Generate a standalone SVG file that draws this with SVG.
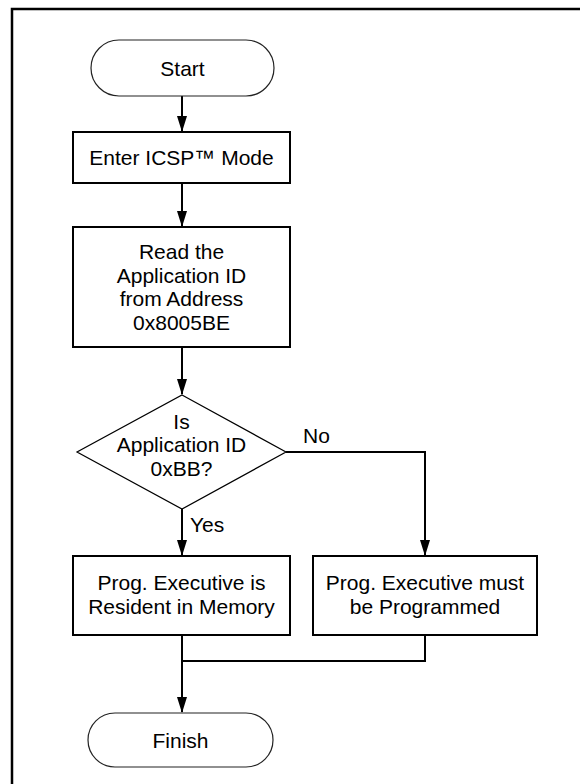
<svg xmlns="http://www.w3.org/2000/svg" width="580" height="784" viewBox="0 0 580 784">
<defs>
<style>
.t{font-family:"Liberation Sans",Arial,sans-serif;font-size:21px;fill:#000;text-anchor:middle}
.l{font-family:"Liberation Sans",Arial,sans-serif;font-size:21px;fill:#000}
.box{fill:#fff;stroke:#000;stroke-width:2}
.term{fill:#fff;stroke:#222;stroke-width:1.2}
.dia{fill:#fff;stroke:#000;stroke-width:1.2}
.c{fill:none;stroke:#000;stroke-width:2}
</style>
<marker id="ah" markerUnits="userSpaceOnUse" markerWidth="16" markerHeight="11" refX="15" refY="5.5" orient="auto">
<path d="M0,0.5 L16,5.5 L0,10.5 z" fill="#000"/>
</marker>
</defs>
<rect width="580" height="784" fill="#fff"/>
<path d="M12,784 V9 H580" fill="none" stroke="#000" stroke-width="2.5"/>
<g id="connectors">
<path class="c" d="M182,96 V131" marker-end="url(#ah)"/>
<path class="c" d="M182,183 V226" marker-end="url(#ah)"/>
<path class="c" d="M182,347 V394" marker-end="url(#ah)"/>
<path class="c" d="M182,509 V555" marker-end="url(#ah)"/>
<path class="c" d="M286,452 H425 V555" marker-end="url(#ah)"/>
<path class="c" d="M425,635 V661 H182"/>
<path class="c" d="M182,635 V712" marker-end="url(#ah)"/>
</g>
<g id="start">
<rect class="term" x="91" y="40" width="183" height="56" rx="28" ry="28"/>
<text class="t" x="182.5" y="75.5">Start</text>
</g>
<g id="enter">
<rect class="box" x="73" y="132" width="217" height="51"/>
<text class="t" x="181.5" y="165">Enter ICSP™ Mode</text>
</g>
<g id="read">
<rect class="box" x="73" y="227" width="217" height="120"/>
<text class="t" x="181.5" y="259">Read the</text>
<text class="t" x="181.5" y="283">Application ID</text>
<text class="t" x="181.5" y="306">from Address</text>
<text class="t" x="181.5" y="330">0x8005BE</text>
</g>
<g id="decision">
<path class="dia" d="M182,395 L286,452 L182,509 L77,452 Z"/>
<text class="t" x="181.5" y="429">Is</text>
<text class="t" x="181.5" y="452">Application ID</text>
<text class="t" x="181.5" y="476">0xBB?</text>
</g>
<text class="l" x="303" y="443">No</text>
<text class="l" x="190" y="532">Yes</text>
<g id="resident">
<rect class="box" x="73" y="556" width="217" height="79"/>
<text class="t" x="181.5" y="590">Prog. Executive is</text>
<text class="t" x="181.5" y="614">Resident in Memory</text>
</g>
<g id="program">
<rect class="box" x="313" y="556" width="224" height="79"/>
<text class="t" x="425" y="590">Prog. Executive must</text>
<text class="t" x="425" y="614">be Programmed</text>
</g>
<g id="finish">
<rect class="term" x="88" y="713" width="185" height="54" rx="27" ry="27"/>
<text class="t" x="180.5" y="747.5">Finish</text>
</g>
</svg>
